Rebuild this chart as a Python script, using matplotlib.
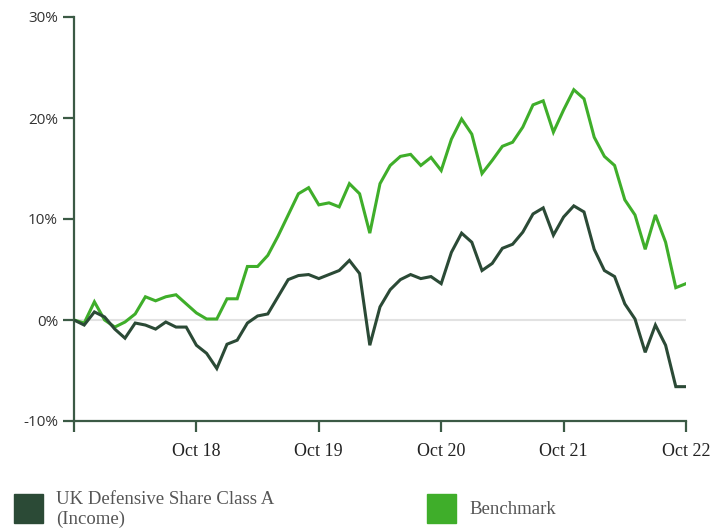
import numpy as np
from matplotlib import pyplot as plt
from matplotlib.patches import Rectangle

# monthly cumulative performance, Oct 17 -> Oct 22 (%)
fund = [0, -0.5, 0.8, 0.3, -0.9, -1.8, -0.3, -0.5, -0.9, -0.2, -0.7, -0.7,
        -2.5, -3.3, -4.8, -2.4, -2.0, -0.3, 0.4, 0.6, 2.3, 4.0, 4.4, 4.5,
        4.1, 4.5, 4.9, 5.9, 4.6, -2.5, 1.3, 3.0, 4.0, 4.5, 4.1, 4.3,
        3.6, 6.7, 8.6, 7.7, 4.9, 5.6, 7.1, 7.5, 8.7, 10.5, 11.1, 8.4,
        10.2, 11.3, 10.7, 7.0, 4.9, 4.3, 1.6, 0.1, -3.2, -0.5, -2.5, -6.6,
        -6.6]
benchmark = [0, -0.3, 1.8, 0.0, -0.7, -0.2, 0.6, 2.3, 1.9, 2.3, 2.5, 1.6,
             0.7, 0.1, 0.1, 2.1, 2.1, 5.3, 5.3, 6.4, 8.3, 10.4, 12.5, 13.1,
             11.4, 11.6, 11.2, 13.5, 12.5, 8.6, 13.5, 15.3, 16.2, 16.4, 15.3, 16.1,
             14.8, 17.9, 19.9, 18.4, 14.5, 15.8, 17.2, 17.6, 19.1, 21.3, 21.7, 18.6,
             20.8, 22.8, 21.9, 18.1, 16.2, 15.3, 11.9, 10.4, 7.0, 10.4, 7.7, 3.2,
             3.6]
tick_months = [0, 12, 24, 36, 48, 60]
tick_labels = ["", "Oct 18", "Oct 19", "Oct 20", "Oct 21", "Oct 22"]
y_ticks = [-10, 0, 10, 20, 30]
series_names = ["UK Defensive Share Class A\n(Income)", "Benchmark"]

dark = "#2b4a36"
green = "#3fae2a"
axis_col = "#3b5a45"

fig = plt.figure(figsize=(7.12, 5.28), dpi=100)
ax = fig.add_axes([74 / 712, 107 / 528, 612 / 712, 404 / 528])

x = np.arange(len(fund))
ax.axhline(0, color="#e2e2e2", lw=1.5, zorder=1)
ax.plot(x, benchmark, color=green, lw=2.2, zorder=3, solid_joinstyle="miter")
ax.plot(x, fund, color=dark, lw=2.2, zorder=3, solid_joinstyle="miter")

ax.set_xlim(0, 60)
ax.set_ylim(-10, 30)
for s in ["top", "right"]:
    ax.spines[s].set_visible(False)
for s in ["left", "bottom"]:
    ax.spines[s].set_color(axis_col)
    ax.spines[s].set_linewidth(1.6)

ax.set_xticks(tick_months)
ax.set_xticklabels(tick_labels, family="Liberation Serif", fontsize=13, color="#222222")
ax.tick_params(axis="x", direction="out", length=8, width=1.6, color=axis_col, pad=8)
ax.set_yticks(y_ticks)
ax.set_yticklabels([f"{v}%" for v in y_ticks], family="Open Sans", fontsize=11, color="#333333")
ax.tick_params(axis="y", direction="out", length=8, width=1.6, color=axis_col, pad=3.5)

# legend
for col, name, lx in [(dark, series_names[0], 14), (green, series_names[1], 427)]:
    fig.patches.append(Rectangle((lx / 712, 5 / 528), 29 / 712, 29 / 528,
                                 transform=fig.transFigure, color=col))
    fig.text((lx + 42) / 712, 18.5 / 528, name, family="Liberation Serif", fontsize=13.5,
             color="#555555", va="center", ha="left", linespacing=1.25)

fig.savefig("out.png", dpi=100)
